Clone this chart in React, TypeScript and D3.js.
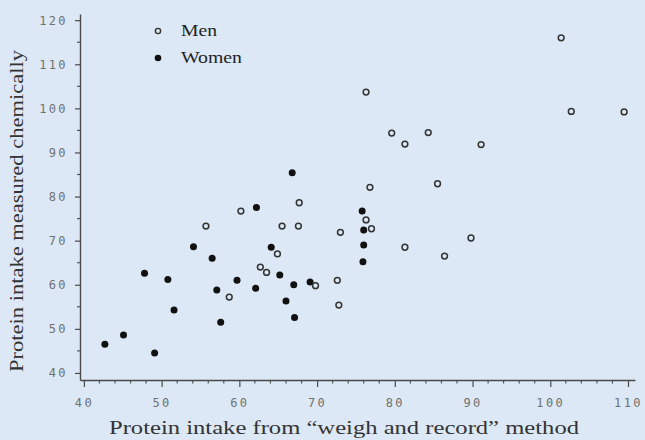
import { useEffect, useRef } from 'react'
import * as d3 from 'd3'

// ── data ─────────────────────────────────────────────────────────────────────
const menX = [55.7, 58.7, 60.2, 62.7, 63.5, 64.9, 65.5, 67.6, 67.7, 69.8, 72.6, 72.8, 73.0, 76.8, 76.3, 77.0,
  76.3, 79.6, 84.3, 81.3, 91.1, 85.5, 89.8, 81.3, 86.4, 101.4, 102.7, 109.5]
const menY = [73.3, 57.2, 76.7, 64.0, 62.8, 67.0, 73.3, 73.3, 78.6, 59.8, 61.0, 55.4, 71.9, 82.1, 74.7, 72.7,
  103.7, 94.4, 94.5, 91.9, 91.8, 82.9, 70.6, 68.5, 66.5, 116.0, 99.3, 99.2]
const womenX = [42.7, 45.1, 49.1, 47.8, 50.8, 51.6, 54.1, 56.5, 57.1, 57.6, 59.7, 62.1, 62.2, 64.1, 65.2, 66.0,
  66.8, 67.0, 67.1, 69.1, 75.8, 76.0, 76.0, 75.9]
const womenY = [46.5, 48.6, 44.5, 62.6, 61.2, 54.3, 68.6, 66.0, 58.8, 51.5, 61.0, 59.2, 77.5, 68.5, 62.2, 56.3,
  85.4, 60.0, 52.6, 60.6, 76.7, 72.4, 69.0, 65.2]
const xTicks = [40, 50, 60, 70, 80, 90, 100, 110]
const yTicks = [40, 50, 60, 70, 80, 90, 100, 110, 120]
const legendItems = ['Men', 'Women']

// ── constants ────────────────────────────────────────────────────────────────
const W = 645
const H = 440
const BG = '#dce8f5'
const AX = '#4a4a4a'
const TICK_TXT = '#707070'
const DOT = '#111'
const SERIF = '"Liberation Serif", "DejaVu Serif", serif'
const MONO = '"DejaVu Sans Mono", "Liberation Mono", monospace'

export default function App() {
  const ref = useRef<SVGSVGElement>(null)

  useEffect(() => {
    if (!ref.current) return
    const svg = d3.select(ref.current)
    svg.selectAll('*').remove()

    svg.append('rect').attr('width', W).attr('height', H).attr('fill', BG)

    const x = d3.scaleLinear().domain([39.5, 110.9]).range([80, 635])
    const y = d3.scaleLinear().domain([38.4, 121.4]).range([380, 14])

    // ── axes ─────────────────────────────────────────────────────────────────
    const xMinor = d3.range(40, 111, 2).filter(v => v % 10 !== 0)
    const yMinor = d3.range(45, 120, 10)

    const gx = svg.append('g').attr('transform', `translate(0,${y.range()[0]})`)
    gx.call(d3.axisBottom(x).tickValues(xTicks).tickSize(7).tickPadding(11).tickSizeOuter(0)
      .tickFormat(d => String(d)))
    gx.selectAll<SVGLineElement, unknown>('line').attr('stroke', AX).attr('stroke-width', 1.2)
    gx.select('.domain').attr('stroke', AX).attr('stroke-width', 1.4)
    gx.selectAll<SVGTextElement, unknown>('text')
      .attr('fill', TICK_TXT).attr('font-family', MONO).attr('font-size', 12)
      .attr('letter-spacing', 2.4)
    gx.append('g').selectAll('line').data(xMinor).join('line')
      .attr('x1', d => x(d)).attr('x2', d => x(d)).attr('y1', 0).attr('y2', 3.5)
      .attr('stroke', AX).attr('stroke-width', 1.1)

    const gy = svg.append('g').attr('transform', `translate(${x.range()[0]},0)`)
    gy.call(d3.axisLeft(y).tickValues(yTicks).tickSize(5).tickPadding(7).tickSizeOuter(0)
      .tickFormat(d => String(d)))
    gy.selectAll<SVGLineElement, unknown>('line').attr('stroke', AX).attr('stroke-width', 1.2)
    gy.select('.domain').attr('stroke', AX).attr('stroke-width', 1.4)
    gy.selectAll<SVGTextElement, unknown>('text')
      .attr('fill', TICK_TXT).attr('font-family', MONO).attr('font-size', 12)
      .attr('letter-spacing', 2.4)
    gy.append('g').selectAll('line').data(yMinor).join('line')
      .attr('y1', d => y(d)).attr('y2', d => y(d)).attr('x1', 0).attr('x2', -3)
      .attr('stroke', AX).attr('stroke-width', 1.1)

    // ── axis titles ──────────────────────────────────────────────────────────
    svg.append('text')
      .attr('x', 344).attr('y', 434)
      .attr('text-anchor', 'middle')
      .attr('font-family', SERIF).attr('font-size', 19).attr('fill', '#333')
      .attr('textLength', 470).attr('lengthAdjust', 'spacingAndGlyphs')
      .text('Protein intake from \u201cweigh and record\u201d method')

    svg.append('text')
      .attr('transform', 'translate(23,211) rotate(-90)')
      .attr('text-anchor', 'middle')
      .attr('font-family', SERIF).attr('font-size', 19).attr('fill', '#333')
      .attr('textLength', 322).attr('lengthAdjust', 'spacingAndGlyphs')
      .text('Protein intake measured chemically')

    // ── points ───────────────────────────────────────────────────────────────
    const men = menX.map((v, i) => [v, menY[i]] as [number, number])
    const women = womenX.map((v, i) => [v, womenY[i]] as [number, number])

    svg.append('g').selectAll('circle').data(women).join('circle')
      .attr('cx', d => x(d[0])).attr('cy', d => y(d[1])).attr('r', 3.5)
      .attr('fill', DOT)

    svg.append('g').selectAll('circle').data(men).join('circle')
      .attr('cx', d => x(d[0])).attr('cy', d => y(d[1])).attr('r', 2.9)
      .attr('fill', 'none').attr('stroke', '#333').attr('stroke-width', 1.5)

    // ── legend ───────────────────────────────────────────────────────────────
    const lg = svg.append('g').attr('transform', 'translate(158,31)')
    lg.selectAll('g').data(legendItems).join('g')
      .attr('transform', (_, i) => `translate(0,${i * 27})`)
      .each(function (d, i) {
        const g = d3.select(this)
        g.append('circle').attr('r', i === 0 ? 2.6 : 3.3)
          .attr('fill', i === 0 ? 'none' : DOT)
          .attr('stroke', i === 0 ? '#333' : 'none').attr('stroke-width', 1.4)
        g.append('text').attr('x', 23).attr('y', 5)
          .attr('font-family', SERIF).attr('font-size', 16.5).attr('fill', '#222')
          .attr('textLength', i === 0 ? 36 : 61).attr('lengthAdjust', 'spacingAndGlyphs')
          .text(d)
      })
  }, [])

  return (
    <div style={{ position: 'fixed', left: 0, top: 0 }}>
      <svg ref={ref} width={W} height={H} style={{ display: 'block' }}
        aria-label="Protein intake scatter plot" />
    </div>
  )
}
